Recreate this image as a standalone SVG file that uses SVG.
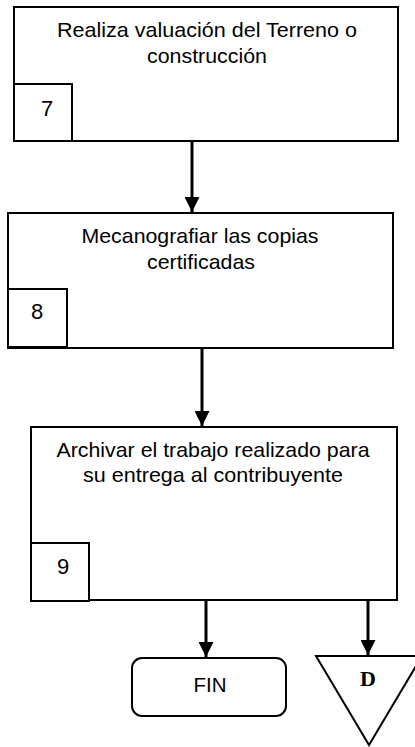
<svg xmlns="http://www.w3.org/2000/svg" width="415" height="747" viewBox="0 0 415 747">
<style>
.box{fill:#fff;stroke:#000;stroke-width:2}
.t{font-family:"Liberation Sans",Arial,sans-serif;font-size:21px;fill:#000;text-anchor:middle}
.n{font-family:"Liberation Sans",Arial,sans-serif;font-size:22px;fill:#000;text-anchor:middle}
.d{font-family:"Liberation Serif","Times New Roman",serif;font-size:22px;font-weight:bold;fill:#000;text-anchor:middle}
.c{stroke:#000;stroke-width:3;fill:none}
</style>
<defs>
<marker id="ah" markerWidth="5" markerHeight="5" refX="5" refY="2.5" orient="auto" markerUnits="strokeWidth">
<path d="M0,0 L5,2.5 L0,5 Z" fill="#000"/>
</marker>
</defs>
<rect width="415" height="747" fill="#fff"/>
<g id="n7">
<rect class="box" x="14" y="7" width="384" height="134"/>
<rect class="box" x="14" y="84" width="58" height="57"/>
<text class="t" x="207" y="37" textLength="300" lengthAdjust="spacingAndGlyphs">Realiza valuación del Terreno o</text>
<text class="t" x="207" y="63" textLength="120" lengthAdjust="spacingAndGlyphs">construcción</text>
<text class="n" x="47" y="116">7</text>
</g>
<g id="n8">
<rect class="box" x="8" y="213" width="385" height="135"/>
<rect class="box" x="8" y="289" width="59" height="58"/>
<text class="t" x="200" y="243" textLength="237" lengthAdjust="spacingAndGlyphs">Mecanografiar las copias</text>
<text class="t" x="201" y="269" textLength="108" lengthAdjust="spacingAndGlyphs">certificadas</text>
<text class="n" x="37" y="319">8</text>
</g>
<g id="n9">
<rect class="box" x="31" y="427" width="366" height="173"/>
<rect class="box" x="31" y="543" width="58" height="58"/>
<text class="t" x="213" y="457" textLength="313" lengthAdjust="spacingAndGlyphs">Archivar el trabajo realizado para</text>
<text class="t" x="213" y="482" textLength="260" lengthAdjust="spacingAndGlyphs">su entrega al contribuyente</text>
<text class="n" x="63" y="574">9</text>
</g>
<g id="fin">
<rect class="box" x="132" y="658" width="154" height="58" rx="10" ry="10"/>
<text class="t" x="210" y="692" textLength="33" lengthAdjust="spacingAndGlyphs">FIN</text>
</g>
<g id="conD">
<polygon class="box" points="316,656 422,656 369,745"/>
<text class="d" x="368" y="686">D</text>
</g>
<g id="connectors">
<line class="c" x1="192" y1="142" x2="192" y2="212" marker-end="url(#ah)"/>
<line class="c" x1="202" y1="349" x2="202" y2="426" marker-end="url(#ah)"/>
<line class="c" x1="206" y1="601" x2="206" y2="657" marker-end="url(#ah)"/>
<line class="c" x1="368" y1="601" x2="368" y2="655" marker-end="url(#ah)"/>
</g>
</svg>
